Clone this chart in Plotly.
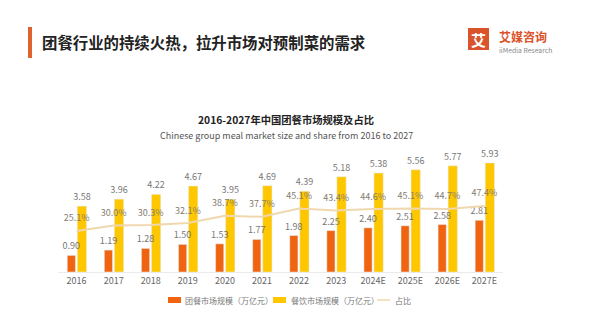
import plotly.graph_objects as go

# Data
years = ["2016", "2017", "2018", "2019", "2020", "2021", "2022", "2023",
         "2024E", "2025E", "2026E", "2027E"]
group_meal = [0.90, 1.19, 1.28, 1.50, 1.53, 1.77, 1.98, 2.25, 2.40, 2.51, 2.58, 2.81]
catering = [3.58, 3.96, 4.22, 4.67, 3.95, 4.69, 4.39, 5.18, 5.38, 5.56, 5.77, 5.93]
share = [25.1, 30.0, 30.3, 32.1, 38.7, 37.7, 45.1, 43.4, 44.6, 45.1, 44.7, 47.4]

ORANGE = "#F0640F"
YELLOW = "#FFC700"
LINE = "#F0D8AE"
FONT = "Noto Sans CJK SC"
W, H = 600, 323
LABEL = dict(size=9, color="#777777")

fig = go.Figure()
# Yellow bars first so the orange value labels stay on top of them
fig.add_trace(go.Bar(
    x=years, y=catering, marker_color=YELLOW, name="餐饮市场规模（万亿元）",
    offset=0.02, width=0.25,
    text=[f"{v:.2f}" for v in catering], textposition="outside",
    textfont=LABEL, constraintext="none", cliponaxis=False,
))
fig.add_trace(go.Bar(
    x=years, y=group_meal, marker_color=ORANGE, name="团餐市场规模（万亿元）",
    offset=-0.25, width=0.22,
    text=[f"{v:.2f}" for v in group_meal], textposition="outside",
    textfont=LABEL, constraintext="none", cliponaxis=False,
))
fig.add_trace(go.Scatter(
    x=years, y=share, yaxis="y2", mode="lines+markers+text", name="占比",
    line=dict(color=LINE, width=2),
    marker=dict(size=10, opacity=0),
    text=[f"{v:.1f}%" for v in share], textposition="top center",
    textfont=dict(size=9, color="#857d70"), cliponaxis=False,
))


def px_x(px):
    return (px - 58) / 445


def px_y(py):
    return 1 - (py - 150) / 122


# Header: accent bar, title, brand mark
shapes = [
    dict(type="rect", xref="paper", yref="paper",
         x0=px_x(28), x1=px_x(32), y0=px_y(27), y1=px_y(58),
         fillcolor="#E0622F", line_width=0),
    dict(type="rect", xref="paper", yref="paper",
         x0=px_x(468), x1=px_x(489), y0=px_y(28), y1=px_y(50),
         fillcolor="#D9532B", line_width=0),
]
annotations = [
    dict(text="<b>团餐行业的持续火热，拉升市场对预制菜的需求</b>", x=40, y=42,
         font=dict(size=15.4, color="#222222")),
    dict(text="<b>2016-2027年中国团餐市场规模及占比</b>", x=286, y=119,
         font=dict(size=10.3, color="#222222"), xanchor="center"),
    dict(text="Chinese group meal market size and share from 2016 to 2027", x=286, y=135,
         font=dict(size=9, color="#555555"), xanchor="center"),
    dict(text="<b>艾</b>", x=478.5, y=39, font=dict(size=15, color="white"), xanchor="center"),
    dict(text="<b>艾媒咨询</b>", x=497, y=36, font=dict(size=12, color="#D9532B")),
    dict(text="iiMedia Research", x=497, y=50, font=dict(size=6.8, color="#888888")),
]

# Legend row
legend_items = [
    (ORANGE, "bar", 168, 183, "团餐市场规模（万亿元）"),
    (YELLOW, "bar", 273, 289, "餐饮市场规模（万亿元）"),
    (LINE, "line", 377, 393, "占比"),
]
ly = 300
for color, kind, x0, tx, label in legend_items:
    if kind == "bar":
        shapes.append(dict(type="rect", xref="paper", yref="paper",
                           x0=px_x(x0), x1=px_x(x0 + 13), y0=px_y(ly + 3), y1=px_y(ly - 3),
                           fillcolor=color, line_width=0))
    else:
        shapes.append(dict(type="line", xref="paper", yref="paper",
                           x0=px_x(x0), x1=px_x(x0 + 13), y0=px_y(ly), y1=px_y(ly),
                           line=dict(color=color, width=1.5)))
    annotations.append(dict(text=label, x=tx, y=ly, font=dict(size=8, color="#777777")))

for a in annotations:
    a.setdefault("xanchor", "left")
    a.update(xref="paper", yref="paper", showarrow=False, yanchor="middle",
             x=px_x(a["x"]), y=px_y(a["y"]))

fig.update_layout(
    width=W, height=H, margin=dict(l=58, r=97, t=150, b=51),
    paper_bgcolor="white", plot_bgcolor="white",
    font=dict(family=FONT, color="#666666"),
    barmode="overlay",
    showlegend=False,
    xaxis=dict(type="category", range=[-0.5, len(years) - 0.5],
               showline=True, linecolor="#EBEBEB", linewidth=1,
               ticks="", tickfont=dict(size=9, color="#666666"), showgrid=False),
    yaxis=dict(range=[0, 6.63], visible=False, showgrid=False),
    yaxis2=dict(range=[-11.6, 97.4], overlaying="y", visible=False, showgrid=False),
    shapes=shapes, annotations=annotations,
)

fig.write_html("out.html")
